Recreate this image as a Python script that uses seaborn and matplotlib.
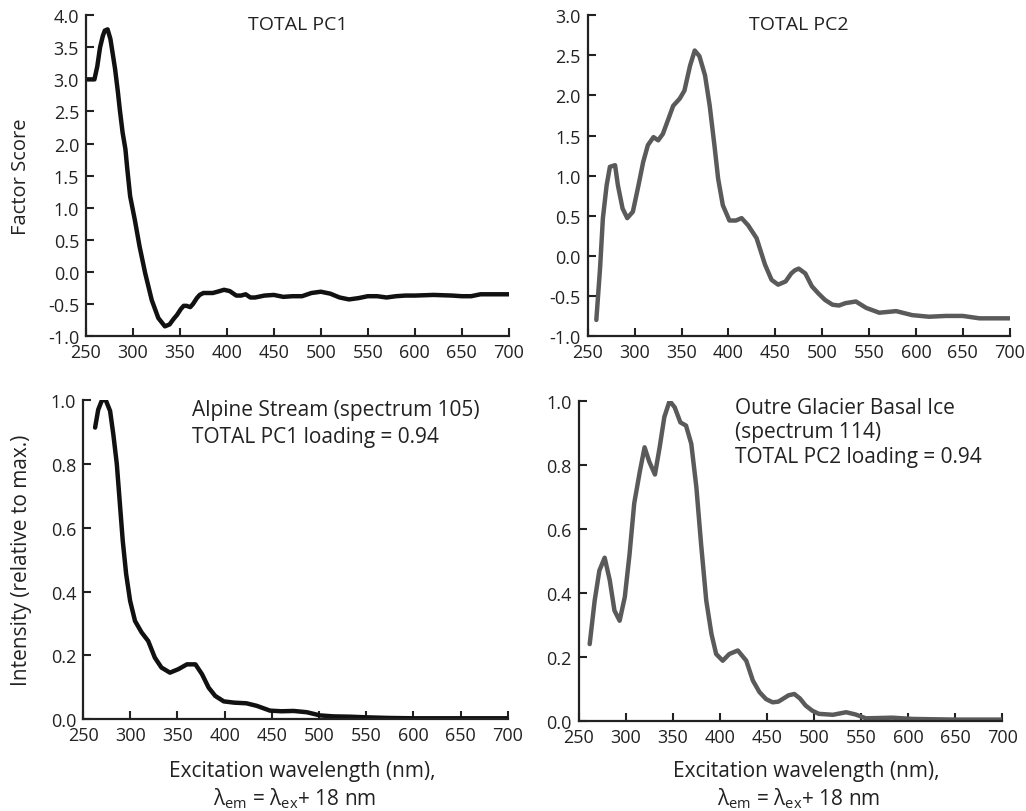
import numpy as np
import pandas as pd
import matplotlib
matplotlib.use("Agg")
import matplotlib.pyplot as plt
import seaborn as sns

# PC1 factor scores (top left)
pc1_wl = [251, 259, 262, 265, 268, 270, 273, 276, 279, 281, 284, 286, 289, 292, 294, 297,
          302, 307, 313, 320, 327, 334, 339, 343, 347, 351, 354, 357, 361, 364, 368, 371,
          375, 380, 385, 390, 397, 403, 410, 415, 420, 425, 430, 440, 450, 460, 470, 480,
          490, 500, 510, 520, 530, 540, 550, 560, 570, 580, 590, 600, 620, 640, 650, 660,
          670, 680, 700]
pc1_score = [3.00, 3.00, 3.20, 3.50, 3.68, 3.76, 3.78, 3.63, 3.35, 3.16, 2.80, 2.53, 2.17,
             1.91, 1.60, 1.18, 0.81, 0.40, -0.02, -0.44, -0.72, -0.85, -0.82, -0.74, -0.67,
             -0.58, -0.53, -0.53, -0.55, -0.50, -0.41, -0.36, -0.33, -0.33, -0.33, -0.31,
             -0.28, -0.30, -0.37, -0.37, -0.35, -0.40, -0.40, -0.37, -0.36, -0.39, -0.38,
             -0.38, -0.33, -0.31, -0.34, -0.40, -0.43, -0.41, -0.38, -0.38, -0.40, -0.38,
             -0.37, -0.37, -0.36, -0.37, -0.38, -0.38, -0.35, -0.35, -0.35]

# PC2 factor scores (top right)
pc2_wl = [259, 263, 266, 270, 273.5, 279, 282, 287, 292, 298, 304, 309, 314, 320, 325, 330,
          336, 341, 348, 353, 359, 364, 369, 375, 380, 385, 389, 394, 401, 408, 414, 421,
          430, 439, 446, 453, 461, 467, 471, 475, 482, 489, 496, 503, 511, 518, 525, 536,
          547, 561, 579, 596, 614, 632, 650, 668, 700]
pc2_score = [-0.80, -0.15, 0.47, 0.88, 1.11, 1.13, 0.88, 0.59, 0.47, 0.55, 0.88, 1.17,
             1.38, 1.48, 1.44, 1.52, 1.71, 1.87, 1.96, 2.06, 2.37, 2.56, 2.49, 2.25, 1.87,
             1.38, 0.96, 0.63, 0.44, 0.44, 0.47, 0.38, 0.22, -0.11, -0.30, -0.36, -0.32,
             -0.22, -0.18, -0.16, -0.22, -0.38, -0.47, -0.55, -0.61, -0.62, -0.59, -0.57,
             -0.65, -0.71, -0.69, -0.74, -0.76, -0.75, -0.75, -0.78, -0.78]

# Alpine stream spectrum (bottom left)
alp_wl = [262.7, 266, 270, 274, 278.6, 282, 285.7, 289, 292, 295.6, 299.8, 305, 312, 319,
          326, 333, 342, 351, 360, 369, 376, 383, 390, 399, 410, 423, 434, 448, 460, 473,
          487, 501, 515, 533, 550, 575, 600, 650, 700]
alp_int = [0.914, 0.97, 1.00, 1.00, 0.966, 0.893, 0.80, 0.674, 0.559, 0.455, 0.371, 0.308,
           0.272, 0.245, 0.193, 0.162, 0.146, 0.157, 0.172, 0.172, 0.141, 0.099, 0.073,
           0.056, 0.052, 0.050, 0.042, 0.027, 0.025, 0.026, 0.022, 0.012, 0.009, 0.008,
           0.006, 0.004, 0.003, 0.003, 0.003]

# Outre Glacier basal ice spectrum (bottom right)
gla_wl = [261.7, 267, 272, 277.6, 283, 288, 293.5, 299, 304, 309, 315, 320, 325, 331, 336,
          341, 346.6, 352, 358, 364, 369.6, 375, 380, 385.5, 391, 396, 403, 410, 419, 428,
          435, 442, 449, 456, 462, 467, 473, 479, 485, 491, 498, 505, 520, 534, 544, 555,
          570, 583, 605, 650, 700]
gla_int = [0.24, 0.376, 0.47, 0.51, 0.44, 0.345, 0.313, 0.387, 0.52, 0.68, 0.78, 0.855,
           0.81, 0.77, 0.855, 0.95, 1.00, 0.98, 0.933, 0.923, 0.866, 0.73, 0.553, 0.376,
           0.272, 0.209, 0.188, 0.209, 0.22, 0.188, 0.126, 0.09, 0.068, 0.058, 0.060, 0.069,
           0.080, 0.084, 0.070, 0.048, 0.032, 0.022, 0.019, 0.027, 0.020, 0.008, 0.009,
           0.010, 0.006, 0.004, 0.004]

x_ticks = [250, 300, 350, 400, 450, 500, 550, 600, 650, 700]

sns.set_theme(style="ticks")
plt.rcParams['font.family'] = ['Open Sans', 'DejaVu Sans']
plt.rcParams['mathtext.fontset'] = 'custom'
plt.rcParams['mathtext.rm'] = 'Open Sans'
plt.rcParams['mathtext.it'] = 'Open Sans'

txt = '#222222'
fig = plt.figure(figsize=(10.26, 8.12), dpi=100)
ax_tl = fig.add_axes([0.0838, 0.585, 0.412, 0.395])
ax_tr = fig.add_axes([0.573, 0.585, 0.411, 0.395])
ax_bl = fig.add_axes([0.081, 0.113, 0.414, 0.393])
ax_br = fig.add_axes([0.564, 0.111, 0.413, 0.394])

panels = [
    (ax_tl, pc1_wl, pc1_score, '#111111'),
    (ax_tr, pc2_wl, pc2_score, '#5a5a5a'),
    (ax_bl, alp_wl, alp_int, '#111111'),
    (ax_br, gla_wl, gla_int, '#5a5a5a'),
]
for ax, xs, ys, col in panels:
    d = pd.DataFrame({'wl': xs, 'val': ys})
    sns.lineplot(data=d, x='wl', y='val', color=col, linewidth=3.2, ax=ax)
    ax.lines[-1].set_solid_joinstyle('round')
    ax.set_xlim(250, 700)
    ax.set_xticks(x_ticks)
    ax.tick_params(direction='in', length=6, width=1.5, labelsize=13,
                   colors=txt, pad=5)
    for s in ['top', 'right']:
        ax.spines[s].set_visible(False)
    for s in ['left', 'bottom']:
        ax.spines[s].set_linewidth(1.6)
        ax.spines[s].set_color('#222222')
    ax.set_xlabel('')
    ax.set_ylabel('')

ax_tl.set_ylim(-1.0, 4.0)
ax_tl.set_yticks(np.arange(-1.0, 4.01, 0.5))
ax_tr.set_ylim(-1.0, 3.0)
ax_tr.set_yticks(np.arange(-1.0, 3.01, 0.5))
for ax in [ax_bl, ax_br]:
    ax.set_ylim(0, 1.0)
    ax.set_yticks([0, 0.2, 0.4, 0.6, 0.8, 1.0])
for ax in [ax_tl, ax_tr, ax_bl, ax_br]:
    ax.yaxis.set_major_formatter(matplotlib.ticker.FormatStrFormatter('%.1f'))

ax_tl.text(0.5, 0.972, 'TOTAL PC1', transform=ax_tl.transAxes, ha='center', va='center',
           fontsize=14, color=txt)
ax_tr.text(0.5, 0.972, 'TOTAL PC2', transform=ax_tr.transAxes, ha='center', va='center',
           fontsize=14, color=txt)

ax_bl.text(0.256, 0.972, 'Alpine Stream (spectrum 105)', transform=ax_bl.transAxes,
           ha='left', va='center', fontsize=15, color=txt)
ax_bl.text(0.256, 0.887, 'TOTAL PC1 loading = 0.94', transform=ax_bl.transAxes,
           ha='left', va='center', fontsize=15, color=txt)
for yy, line in zip([0.981, 0.906, 0.825],
                    ['Outre Glacier Basal Ice', '(spectrum 114)', 'TOTAL PC2 loading = 0.94']):
    ax_br.text(0.368, yy, line, transform=ax_br.transAxes, ha='left', va='center',
               fontsize=15, color=txt)

fig.text(21 / 1026, 1 - 177 / 812, 'Factor Score', rotation=90, ha='center', va='center',
         fontsize=14.5, color=txt)
fig.text(22 / 1026, 1 - 560 / 812, 'Intensity (relative to max.)', rotation=90,
         ha='center', va='center', fontsize=15, color=txt)

for cx in [302 / 1026, 806 / 1026]:
    fig.text(cx, 1 - 772 / 812, 'Excitation wavelength (nm),', ha='center', va='center',
             fontsize=15, color=txt)
    fig.text(cx - 7 / 1026, 1 - 799 / 812, r'λ$_{\rm em}$ = λ$_{\rm ex}$+ 18 nm',
             ha='center', va='center', fontsize=15, color=txt)

fig.savefig('out.png', dpi=100)
